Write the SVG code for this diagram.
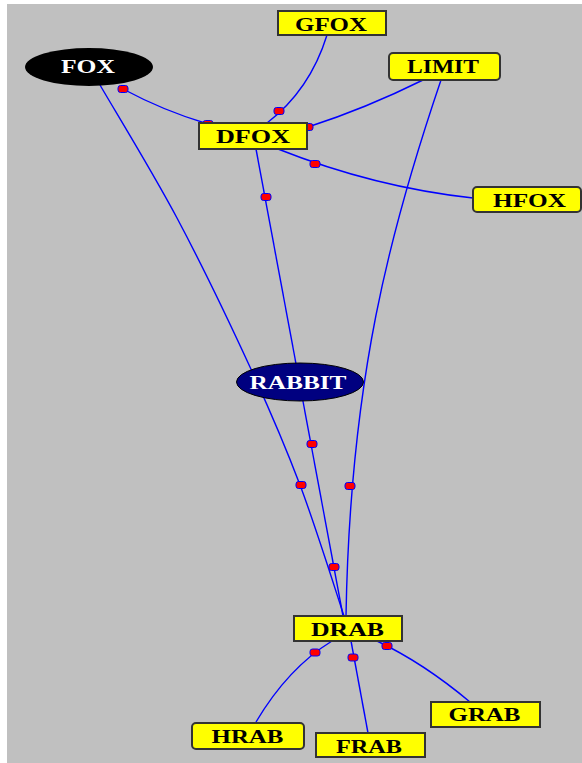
<svg xmlns="http://www.w3.org/2000/svg" width="582" height="763" viewBox="0 0 582 763">
<style>
.edge{fill:none;stroke:#0000ff;stroke-width:1.4}
.mk{fill:#ff0000;stroke:#0000ff;stroke-width:1}
.box{fill:#ffff00;stroke:#333333;stroke-width:2}
.lbl{font-family:"Liberation Serif","Times New Roman",serif;font-weight:bold;font-size:18px;fill:#000000;text-anchor:middle}
.wl{fill:#ffffff}
</style>
<rect x="0" y="0" width="582" height="763" fill="#ffffff"/>
<rect x="7" y="4" width="575" height="759" fill="#c0c0c0"/>
<g id="connectors">
<path class="edge" d="M123 89 Q164 111 208 124"/>
<path class="edge" d="M327 35 Q310 90 267 123"/>
<path class="edge" d="M423 80 Q365.5 108.5 308 127"/>
<path class="edge" d="M278 149 Q374.5 187.3 473 198"/>
<path class="edge" d="M256 149 L343 616"/>
<path class="edge" d="M100 85 C112.8 107.2 152 171 177 218 C202 265 229.5 322.5 250 367 C270.5 411.5 284.3 443.5 300 485 C315.7 526.5 336.7 594.2 344 616"/>
<path class="edge" d="M441 80 C390 230 350 380 346 616"/>
<path class="edge" d="M332 641 Q288 668 256 722"/>
<path class="edge" d="M351 641 L368 733"/>
<path class="edge" d="M377 641 Q423.5 663 470 702"/>
<rect class="mk" x="118" y="85.5" width="10" height="7" rx="2.5"/>
<rect class="mk" x="203" y="120.5" width="10" height="7" rx="2.5"/>
<rect class="mk" x="274" y="107.5" width="10" height="7" rx="2.5"/>
<rect class="mk" x="303" y="123.5" width="10" height="7" rx="2.5"/>
<rect class="mk" x="310" y="160.5" width="10" height="7" rx="2.5"/>
<rect class="mk" x="261" y="193.5" width="10" height="7" rx="2.5"/>
<rect class="mk" x="307" y="440.5" width="10" height="7" rx="2.5"/>
<rect class="mk" x="296" y="481.5" width="10" height="7" rx="2.5"/>
<rect class="mk" x="345" y="482.5" width="10" height="7" rx="2.5"/>
<rect class="mk" x="329" y="563.5" width="10" height="7" rx="2.5"/>
<rect class="mk" x="310" y="649" width="10" height="7" rx="2.5"/>
<rect class="mk" x="348" y="654" width="10" height="7" rx="2.5"/>
<rect class="mk" x="382" y="642.5" width="10" height="7" rx="2.5"/>
</g>
<g id="FOX">
<ellipse cx="89" cy="67" rx="64" ry="19" fill="#000000"/>
<text class="lbl wl" x="88" y="73" textLength="54" lengthAdjust="spacingAndGlyphs">FOX</text>
</g>
<g id="GFOX">
<rect class="box" x="278" y="11" width="108" height="24"/>
<text class="lbl" x="331" y="31" textLength="72" lengthAdjust="spacingAndGlyphs">GFOX</text>
</g>
<g id="LIMIT">
<rect class="box" x="389" y="53" width="111" height="27" rx="4"/>
<text class="lbl" x="443" y="73" textLength="72" lengthAdjust="spacingAndGlyphs">LIMIT</text>
</g>
<g id="DFOX">
<rect class="box" x="199" y="123" width="108" height="26"/>
<text class="lbl" x="253" y="143" textLength="74" lengthAdjust="spacingAndGlyphs">DFOX</text>
</g>
<g id="HFOX">
<rect class="box" x="473" y="187" width="108" height="25" rx="4"/>
<text class="lbl" x="529.5" y="207" textLength="73" lengthAdjust="spacingAndGlyphs">HFOX</text>
</g>
<g id="RABBIT">
<ellipse cx="300" cy="382" rx="63.5" ry="19" fill="#000080" stroke="#000000" stroke-width="1"/>
<text class="lbl wl" x="298" y="389" style="font-size:19px" textLength="97" lengthAdjust="spacingAndGlyphs">RABBIT</text>
</g>
<g id="DRAB">
<rect class="box" x="294" y="616" width="108" height="25"/>
<text class="lbl" x="347.5" y="636" textLength="73" lengthAdjust="spacingAndGlyphs">DRAB</text>
</g>
<g id="HRAB">
<rect class="box" x="192" y="723" width="112" height="26" rx="4"/>
<text class="lbl" x="247.5" y="743" textLength="72" lengthAdjust="spacingAndGlyphs">HRAB</text>
</g>
<g id="FRAB">
<rect class="box" x="316" y="733" width="109" height="24"/>
<text class="lbl" x="369" y="752.5" textLength="66" lengthAdjust="spacingAndGlyphs">FRAB</text>
</g>
<g id="GRAB">
<rect class="box" x="431" y="702" width="109" height="25"/>
<text class="lbl" x="484.5" y="721" textLength="72" lengthAdjust="spacingAndGlyphs">GRAB</text>
</g>
</svg>
